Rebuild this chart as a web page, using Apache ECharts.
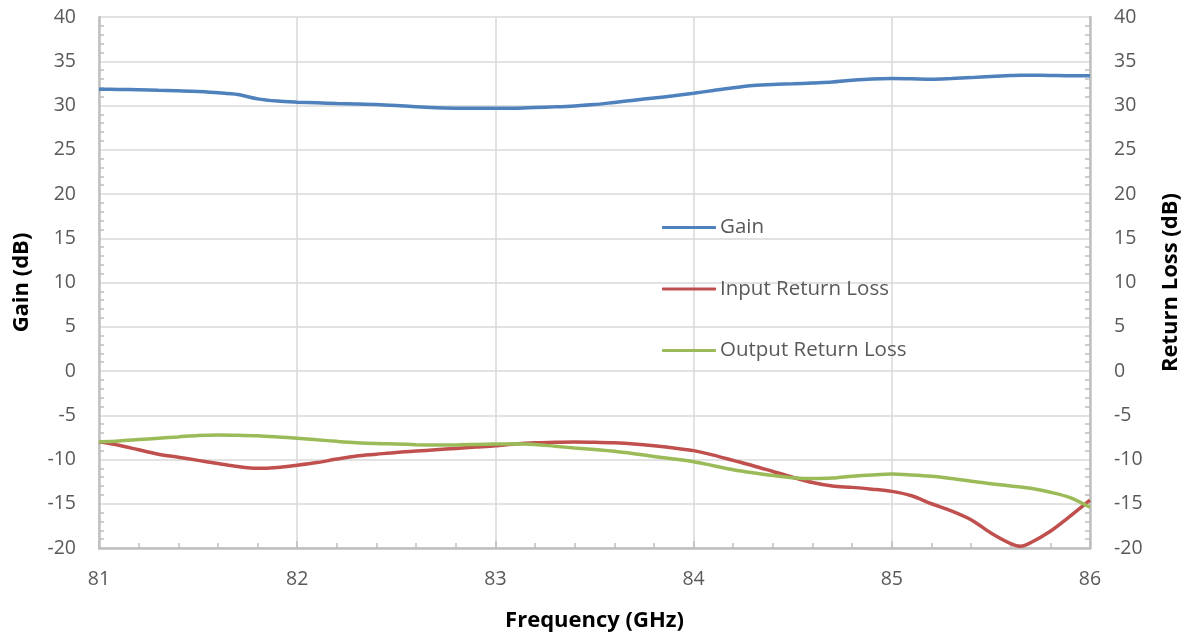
<!DOCTYPE html>
<html>
<head>
<meta charset="utf-8">
<script src="https://cdn.jsdelivr.net/npm/echarts@6/dist/echarts.min.js"></script>
<style>
html,body{margin:0;padding:0;background:#fff;}
#chart{width:1187px;height:634px;}
</style>
</head>
<body>
<div id="chart"></div>
<script>
const freq = [81.0,81.1,81.2,81.3,81.4,81.5,81.6,81.7,81.8,81.9,
  82.0,82.1,82.2,82.3,82.4,82.5,82.6,82.7,82.8,82.9,
  83.0,83.1,83.2,83.3,83.4,83.5,83.6,83.7,83.8,83.9,
  84.0,84.1,84.2,84.3,84.4,84.5,84.6,84.7,84.8,84.9,
  85.0,85.1,85.2,85.3,85.4,85.5,85.6,85.65,85.7,85.8,85.9,86.0];
const gain = [31.85,31.82,31.78,31.72,31.68,31.58,31.45,31.25,30.75,30.5,
  30.38,30.3,30.22,30.18,30.12,30.0,29.85,29.75,29.7,29.68,
  29.68,29.7,29.78,29.85,29.95,30.1,30.35,30.6,30.85,31.1,
  31.38,31.7,32.0,32.25,32.38,32.45,32.55,32.65,32.85,33.0,
  33.05,33.02,32.98,33.05,33.15,33.28,33.38,33.42,33.42,33.4,33.35,33.35];
const inputRL = [-8.0,-8.4,-8.9,-9.4,-9.75,-10.1,-10.45,-10.8,-11.0,-10.9,
  -10.65,-10.35,-9.95,-9.6,-9.4,-9.2,-9.05,-8.9,-8.75,-8.6,
  -8.45,-8.25,-8.12,-8.05,-8.02,-8.05,-8.12,-8.25,-8.45,-8.7,
  -9.0,-9.5,-10.1,-10.7,-11.35,-12.0,-12.6,-13.0,-13.15,-13.35,
  -13.6,-14.1,-15.0,-15.8,-16.8,-18.3,-19.5,-19.8,-19.4,-18.1,-16.4,-14.6];
const outputRL = [-8.0,-7.9,-7.75,-7.6,-7.45,-7.28,-7.22,-7.25,-7.32,-7.45,
  -7.6,-7.78,-7.95,-8.1,-8.2,-8.25,-8.32,-8.35,-8.35,-8.3,
  -8.25,-8.23,-8.3,-8.5,-8.7,-8.88,-9.08,-9.35,-9.65,-9.95,
  -10.25,-10.7,-11.15,-11.5,-11.8,-12.05,-12.15,-12.1,-11.9,-11.75,
  -11.65,-11.75,-11.9,-12.15,-12.45,-12.75,-13.0,-13.1,-13.25,-13.7,-14.3,-15.4];
const seriesNames = ['Gain','Input Return Loss','Output Return Loss'];
const xTitle = 'Frequency (GHz)';
const yLeftTitle = 'Gain (dB)';
const yRightTitle = 'Return Loss (dB)';

const pair = (ys) => freq.map((f,i)=>[f, ys[i]]);
const FONT = '"Open Sans", "Noto Sans", sans-serif';
const txt = '#595959';
const axisLine = {show:true, onZero:false, lineStyle:{color:'#bfbfbf', width:2.5}};
const yAxisBase = {
  type:'value', min:-20, max:40, interval:5,
  axisLine: axisLine,
  axisTick:{show:false, inside:true},
  minorTick:{show:true, splitNumber:5, length:5, lineStyle:{color:'#bfbfbf', width:1.5}},
  axisLabel:{color:txt, fontSize:19.5, fontFamily:FONT},
  nameLocation:'middle', nameRotate:90,
  nameTextStyle:{color:'#000', fontSize:22, fontWeight:'bold', fontFamily:FONT}
};

const chart = echarts.init(document.getElementById('chart'));
chart.setOption({
  animation:false,
  grid:{left:99, right:97, top:17, bottom:86, containLabel:false, outerBoundsMode:'none'},
  legend:{
    orient:'vertical', left:662, top:217, padding:0,
    itemWidth:54, itemHeight:3, itemGap:40.5, icon:'roundRect',
    textStyle:{color:txt, fontSize:20.5, fontFamily:FONT, lineHeight:21, padding:[0,0,0,-1]},
    data:seriesNames
  },
  xAxis:{
    type:'value', min:81, max:86, interval:1,
    axisLine: axisLine,
    axisTick:{show:true, inside:true, length:7, lineStyle:{color:'#bfbfbf', width:1.5}},
    minorTick:{show:true, splitNumber:5, length:5, lineStyle:{color:'#bfbfbf', width:1.5}},
    splitLine:{show:true, lineStyle:{color:'#d9d9d9', width:1.5}},
    axisLabel:{color:txt, fontSize:19.5, fontFamily:FONT, margin:21},
    name:xTitle, nameLocation:'middle', nameGap:62,
    nameTextStyle:{color:'#000', fontSize:22, fontWeight:'bold', fontFamily:FONT}
  },
  yAxis:[
    Object.assign({}, yAxisBase, {
      position:'left', name:yLeftTitle, nameGap:66,
      axisLabel:Object.assign({}, yAxisBase.axisLabel, {margin:23}),
      splitLine:{show:true, lineStyle:{color:'#d9d9d9', width:1.5}}
    }),
    Object.assign({}, yAxisBase, {
      position:'right', name:yRightTitle, nameGap:70,
      axisLabel:Object.assign({}, yAxisBase.axisLabel, {margin:24}),
      splitLine:{show:false}
    })
  ],
  series:[
    {name:seriesNames[0], type:'line', yAxisIndex:0, data:pair(gain), showSymbol:false, smooth:0.3,
     lineStyle:{color:'#4f81bd', width:3.5}, itemStyle:{color:'#4f81bd'}},
    {name:seriesNames[1], type:'line', yAxisIndex:1, data:pair(inputRL), showSymbol:false, smooth:0.3,
     lineStyle:{color:'#c0504d', width:3.5}, itemStyle:{color:'#c0504d'}},
    {name:seriesNames[2], type:'line', yAxisIndex:1, data:pair(outputRL), showSymbol:false, smooth:0.3,
     lineStyle:{color:'#9bbb59', width:3.5}, itemStyle:{color:'#9bbb59'}}
  ]
});
</script>
</body>
</html>
